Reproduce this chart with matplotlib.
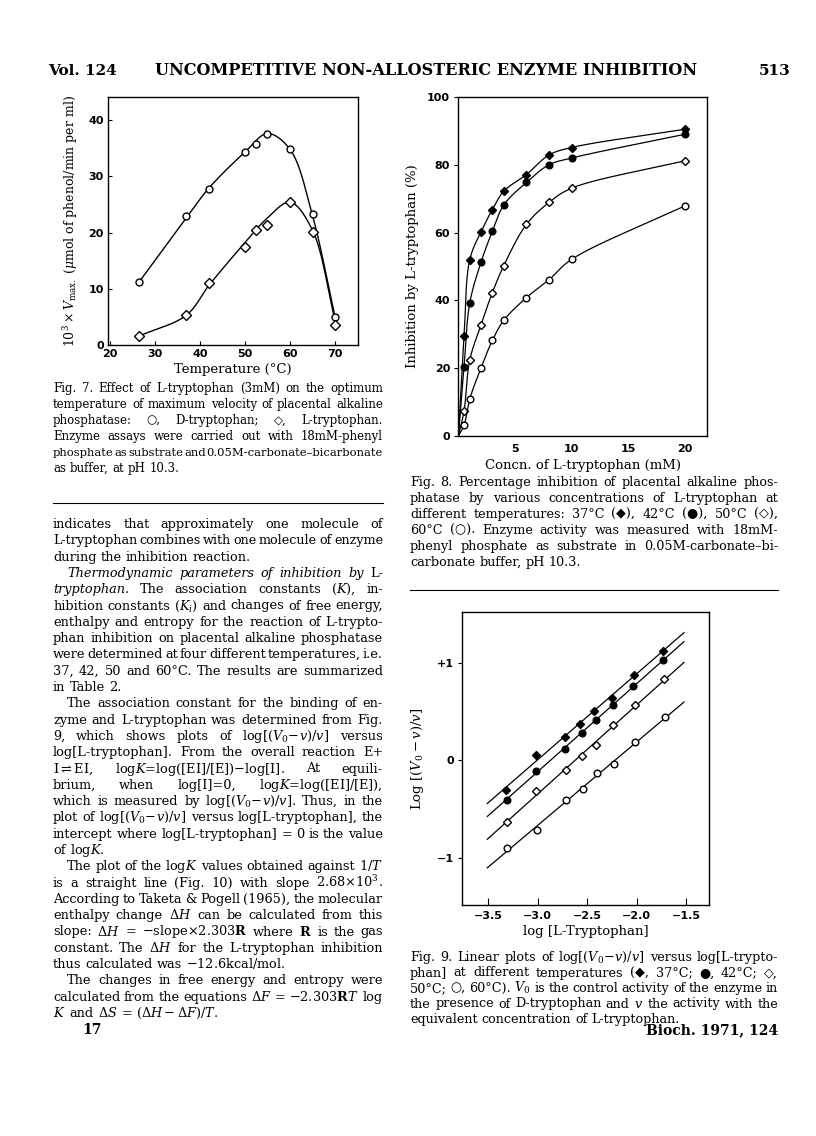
import numpy as np
import matplotlib
matplotlib.use("Agg")
import matplotlib.pyplot as plt

plt.rcParams['font.family'] = ['DejaVu Serif', 'DejaVu Sans']
plt.rcParams['mathtext.fontset'] = 'dejavuserif'

# ---------------- data: Fig. 7 ----------------
temp_d = [26.5, 37, 42, 50, 52.5, 55, 60, 65, 70]
vmax_d = [11.2, 22.9, 27.7, 34.4, 35.8, 37.6, 34.8, 23.3, 5.0]
temp_l = [26.5, 37, 42, 50, 52.5, 55, 60, 65, 70]
vmax_l = [1.6, 5.4, 11.1, 17.5, 20.5, 21.3, 25.4, 20.1, 3.5]
# hand-drawn curves
curve_d_t = [26.5, 37, 42, 50, 55, 60, 65, 70]
curve_d_v = [11.2, 22.6, 27.9, 34.3, 37.6, 34.8, 23.0, 5.0]
curve_l_t = [26.5, 37, 42, 50, 55, 60, 65, 70]
curve_l_v = [1.6, 5.3, 10.6, 18.2, 22.6, 25.4, 20.4, 4.4]

# ---------------- data: Fig. 8 ----------------
conc = [0.5, 1, 2, 3, 4, 6, 8, 10, 20]
inh_37 = [29.4, 52.0, 60.3, 66.8, 72.2, 77.1, 82.9, 85.1, 90.5]
inh_42 = [20.4, 39.2, 51.3, 60.4, 68.1, 74.8, 80.0, 82.0, 89.0]
inh_50 = [7.4, 22.4, 32.8, 42.3, 50.2, 62.4, 68.9, 73.1, 81.2]
inh_60 = [3.2, 10.9, 20.1, 28.2, 34.1, 40.8, 46.1, 52.1, 67.9]

# ---------------- data: Fig. 9 ----------------
logc_37 = [-3.32, -3.02, -2.72, -2.57, -2.43, -2.25, -2.03, -1.735]
logr_37 = [-0.31, 0.05, 0.24, 0.376, 0.503, 0.64, 0.879, 1.118]
logc_42 = [-3.31, -3.02, -2.72, -2.555, -2.413, -2.241, -2.032, -1.729]
logr_42 = [-0.41, -0.106, 0.117, 0.281, 0.417, 0.564, 0.759, 1.026]
logc_50 = [-3.31, -3.02, -2.714, -2.549, -2.413, -2.235, -2.015, -1.722]
logr_50 = [-0.636, -0.314, -0.103, 0.041, 0.154, 0.359, 0.571, 0.828]
logc_60 = [-3.31, -3.01, -2.714, -2.538, -2.403, -2.225, -2.015, -1.712]
logr_60 = [-0.899, -0.718, -0.41, -0.30, -0.13, -0.037, 0.189, 0.441]
fit_range = [-3.51, -1.52]

W, H = 816, 1136
fig = plt.figure(figsize=(W / 100, H / 100), dpi=100)
renderer = fig.canvas.get_renderer()


def ax_at(l, t, r, b):
    return fig.add_axes([l / W, 1 - b / H, (r - l) / W, (b - t) / H])


def smooth(x, y, sx, sy, n=40):
    """centripetal Catmull-Rom through the points, in pixel-scaled space"""
    P = np.column_stack([np.asarray(x, float) * sx, np.asarray(y, float) * sy])
    P = np.vstack([2 * P[0] - P[1], P, 2 * P[-1] - P[-2]])
    out = []
    for i in range(1, len(P) - 2):
        p0, p1, p2, p3 = P[i - 1], P[i], P[i + 1], P[i + 2]
        t0 = 0.0
        t1 = t0 + np.linalg.norm(p1 - p0) ** 0.5
        t2 = t1 + np.linalg.norm(p2 - p1) ** 0.5
        t3 = t2 + np.linalg.norm(p3 - p2) ** 0.5
        t = np.linspace(t1, t2, n)[:, None]
        a1 = (t1 - t) / (t1 - t0) * p0 + (t - t0) / (t1 - t0) * p1
        a2 = (t2 - t) / (t2 - t1) * p1 + (t - t1) / (t2 - t1) * p2
        a3 = (t3 - t) / (t3 - t2) * p2 + (t - t2) / (t3 - t2) * p3
        b1 = (t2 - t) / (t2 - t0) * a1 + (t - t0) / (t2 - t0) * a2
        b2 = (t3 - t) / (t3 - t1) * a2 + (t - t1) / (t3 - t1) * a3
        c = (t2 - t) / (t2 - t1) * b1 + (t - t1) / (t2 - t1) * b2
        out.append(c)
    C = np.vstack(out)
    return C[:, 0] / sx, C[:, 1] / sy


TICKFONT = dict(family='DejaVu Sans', weight='bold', size=8)

# ---------------- Fig. 7 ----------------
ax7 = ax_at(108, 97, 358, 345)
ax7.set_xlim(19.6, 75.1)
ax7.set_ylim(0, 44.1)
xs, ys = smooth(curve_d_t, curve_d_v, 4.5, 5.625)
ax7.plot(xs, ys, color='black', lw=1.0)
xs, ys = smooth(curve_l_t, curve_l_v, 4.5, 5.625)
ax7.plot(xs, ys, color='black', lw=1.0)
ax7.plot(temp_d, vmax_d, 'o', ms=5, mfc='white', mec='black', mew=1.0)
ax7.plot(temp_l, vmax_l, 'D', ms=4.6, mfc='white', mec='black', mew=1.0)
ax7.set_xticks([20, 30, 40, 50, 60, 70])
ax7.set_yticks([0, 10, 20, 30, 40])
ax7.set_xticklabels([str(v) for v in [20, 30, 40, 50, 60, 70]], fontdict=TICKFONT)
ax7.set_yticklabels([str(v) for v in [0, 10, 20, 30, 40]], fontdict=TICKFONT)
ax7.tick_params(direction='in', length=3, width=0.8, pad=3)
ax7.set_xlabel('Temperature (°C)', fontsize=9.5, labelpad=3)
ax7.set_ylabel(r'$10^3\times V_{\mathrm{max.}}$ ($\mu$mol of phenol/min per ml)',
               fontsize=9, labelpad=6)

# ---------------- Fig. 8 ----------------
ax8 = ax_at(458.4, 97, 707, 436)
ax8.set_xlim(0, 21.95)
ax8.set_ylim(0, 100)
for vals, mk, fc in [(inh_37, 'D', 'black'), (inh_42, 'o', 'black'),
                     (inh_50, 'D', 'white'), (inh_60, 'o', 'white')]:
    xs, ys = smooth([0] + conc, [0] + vals, 11.32, 3.4)
    ax8.plot(xs, ys, color='black', lw=0.9)
    ax8.plot(conc, vals, mk, ms=4.8 if mk == 'o' else 4.5, mfc=fc, mec='black', mew=1.0)
ax8.set_xticks([5, 10, 15, 20])
ax8.set_xticklabels(['5', '10', '15', '20'], fontdict=TICKFONT)
ax8.set_yticks([0, 20, 40, 60, 80, 100])
ax8.set_yticklabels(['0', '20', '40', '60', '80', '100'], fontdict=TICKFONT)
ax8.tick_params(axis='x', length=0, pad=6)
ax8.tick_params(axis='y', direction='out', length=3, width=0.8, pad=3)
ax8.set_xlabel('Concn. of L-tryptophan (mM)', fontsize=9.5, labelpad=3)
ax8.set_ylabel('Inhibition by L-tryptophan (%)', fontsize=9.5, labelpad=6)

# ---------------- Fig. 9 ----------------
ax9 = ax_at(462.3, 612.3, 709.3, 905)
ax9.set_xlim(-3.763, -1.264)
ax9.set_ylim(-1.485, 1.517)
fx = np.array(fit_range)
for lx, ly, mk, fc in [(logc_37, logr_37, 'D', 'black'), (logc_42, logr_42, 'o', 'black'),
                       (logc_50, logr_50, 'D', 'white'), (logc_60, logr_60, 'o', 'white')]:
    k, b = np.polyfit(lx, ly, 1)
    ax9.plot(fx, k * fx + b, color='black', lw=0.9)
    ax9.plot(lx, ly, mk, ms=4.8 if mk == 'o' else 4.5, mfc=fc, mec='black', mew=1.0)
ax9.set_xticks([-3.5, -3.0, -2.5, -2.0, -1.5])
ax9.set_xticklabels(['\u22123.5', '\u22123.0', '\u22122.5', '\u22122.0', '\u22121.5'],
                    fontdict=TICKFONT)
ax9.set_yticks([-1, 0, 1])
ax9.set_yticklabels(['\u22121', '0', '+1'], fontdict=TICKFONT)
ax9.tick_params(axis='x', direction='in', length=5, width=0.8, pad=4)
ax9.tick_params(axis='y', direction='out', length=3, width=0.8, pad=3)
ax9.set_xlabel('log [L-Tryptophan]', fontsize=9.5, labelpad=3)
ax9.set_ylabel(r'Log [$(V_0-v)/v$]', fontsize=9.5, labelpad=8)

for a in (ax7, ax8, ax9):
    for s in a.spines.values():
        s.set_linewidth(1.0)


# ---------------- page text ----------------
def parse(ln):
    indent = 0
    if ln.startswith('>'):
        ln = ln[1:]
        indent = 14
    last = ln.endswith('|')
    if last:
        ln = ln[:-1]
    words = []
    for w in ln.split(' '):
        st = 'normal'
        if w.startswith('_'):
            w, st = w[1:], 'italic'
        words.append((w, st))
    return words, indent, last


def word_widths(words, size):
    ws = []
    for w, st in words:
        t = fig.text(0, 0, w, fontsize=size, fontstyle=st)
        ws.append(t.get_window_extent(renderer).width)
        t.remove()
    return ws


SP = 0.318 * 100 / 72  # space width per pt
MINGAP = 0.5


def paragraph(lines, x0, x1, y0, dy, maxsize):
    parsed = [parse(ln) for ln in lines]
    fits = []
    for words, indent, last in parsed:
        if last or len(words) < 2:
            continue
        w10 = sum(word_widths(words, 10)) + (len(words) - 1) * SP * 10
        fits.append(10 * (x1 - x0 - indent) / w10)
    size = min(maxsize, float(np.percentile(fits, 25)))
    for i, (words, indent, last) in enumerate(parsed):
        y = y0 + i * dy
        s = size
        ws = word_widths(words, s)
        avail = x1 - x0 - indent
        n = len(words)
        if not last and n > 1:
            gap = (avail - sum(ws)) / (n - 1)
            if gap < MINGAP * SP * s:
                w1 = sum(ws) / s
                s = avail / (w1 + (n - 1) * MINGAP * SP)
                ws = word_widths(words, s)
                gap = (avail - sum(ws)) / (n - 1)
        else:
            gap = SP * s
        x = x0 + indent
        for (w, st), wd in zip(words, ws):
            fig.text(x / W, 1 - y / H, w, fontsize=s, fontstyle=st,
                     va='baseline', ha='left')
            x += wd + gap


LX0, LX1 = 53, 383
RX0, RX1 = 410, 778

fig.text(48 / W, 1 - 75 / H, 'Vol. 124', fontsize=11, weight='bold', va='baseline')
fig.text(426 / W, 1 - 75 / H, 'UNCOMPETITIVE NON-ALLOSTERIC ENZYME INHIBITION',
         fontsize=11.6, weight='bold', va='baseline', ha='center')
fig.text(790 / W, 1 - 75 / H, '513', fontsize=11, weight='bold', va='baseline', ha='right')

cap7 = [
    'Fig. 7. Effect of L-tryptophan (3mM) on the optimum',
    'temperature of maximum velocity of placental alkaline',
    'phosphatase: \u25cb, D-tryptophan; \u25c7, L-tryptophan.',
    'Enzyme assays were carried out with 18mM-phenyl',
    'phosphate as substrate and 0.05M-carbonate\u2013bicarbonate',
    'as buffer, at pH 10.3.|',
]
paragraph(cap7, LX0, LX1, 392, 16, 9.2)

fig.add_artist(plt.Line2D([LX0 / W, LX1 / W], [1 - 503 / H, 1 - 503 / H], color='black', lw=0.8))

cap8 = [
    'Fig. 8. Percentage inhibition of placental alkaline phos-',
    'phatase by various concentrations of L-tryptophan at',
    'different temperatures: 37°C (\u25c6), 42°C (\u25cf), 50°C (\u25c7),',
    '60°C (\u25cb). Enzyme activity was measured with 18mM-',
    'phenyl phosphate as substrate in 0.05M-carbonate\u2013bi-',
    'carbonate buffer, pH 10.3.|',
]
paragraph(cap8, RX0, RX1, 486, 16, 9.2)

fig.add_artist(plt.Line2D([RX0 / W, RX1 / W], [1 - 590 / H, 1 - 590 / H], color='black', lw=0.8))

body = [
    'indicates that approximately one molecule of',
    'L-tryptophan combines with one molecule of enzyme',
    'during the inhibition reaction.|',
    '>_Thermodynamic _parameters _of _inhibition _by L-',
    '_tryptophan. The association constants ($K$), in-',
    'hibition constants ($K_i$) and changes of free energy,',
    'enthalpy and entropy for the reaction of L-trypto-',
    'phan inhibition on placental alkaline phosphatase',
    'were determined at four different temperatures, i.e.',
    '37, 42, 50 and 60°C. The results are summarized',
    'in Table 2.|',
    '>The association constant for the binding of en-',
    'zyme and L-tryptophan was determined from Fig.',
    r'9, which shows plots of log[$(V_0\!-\!v)/v$] versus',
    'log[L-tryptophan]. From the overall reaction E+',
    r'I$\rightleftharpoons$EI, log$K$=log([EI]/[E])$-$log[I]. At equili-',
    'brium, when log[I]=0, log$K$=log([EI]/[E]),',
    r'which is measured by log[$(V_0\!-\!v)/v$]. Thus, in the',
    r'plot of log[$(V_0\!-\!v)/v$] versus log[L-tryptophan], the',
    'intercept where log[L-tryptophan] = 0 is the value',
    'of log$K$.|',
    '>The plot of the log$K$ values obtained against 1/$T$',
    r'is a straight line (Fig. 10) with slope 2.68$\times$10$^3$.',
    'According to Taketa & Pogell (1965), the molecular',
    r'enthalpy change $\Delta{H}$ can be calculated from this',
    r'slope: $\Delta{H}$ = $-$slope$\times$2.303$\mathbf{R}$ where $\mathbf{R}$ is the gas',
    r'constant. The $\Delta{H}$ for the L-tryptophan inhibition',
    r'thus calculated was $-$12.6kcal/mol.|',
    '>The changes in free energy and entropy were',
    r'calculated from the equations $\Delta{F}$ = $-$2.303$\mathbf{R}T$ log',
    r'$K$ and $\Delta{S}$ = $(\Delta{H}-\Delta{F})/T$.|',
]
paragraph(body, LX0, LX1, 528, 16.3, 10.2)

fig.text(82 / W, 1 - 1034 / H, '17', fontsize=10, weight='bold', va='baseline')

cap9 = [
    r'Fig. 9. Linear plots of log[$(V_0\!-\!v)/v$] versus log[L-trypto-',
    'phan] at different temperatures (\u25c6, 37°C; \u25cf, 42°C; \u25c7,',
    '50°C; \u25cb, 60°C). $V_0$ is the control activity of the enzyme in',
    'the presence of D-tryptophan and $v$ the activity with the',
    'equivalent concentration of L-tryptophan.|',
]
paragraph(cap9, RX0, RX1, 961, 15.5, 9.2)

fig.text(RX1 / W, 1 - 1034 / H, 'Bioch. 1971, 124', fontsize=10, weight='bold',
         va='baseline', ha='right')

fig.savefig('out.png', dpi=100)
